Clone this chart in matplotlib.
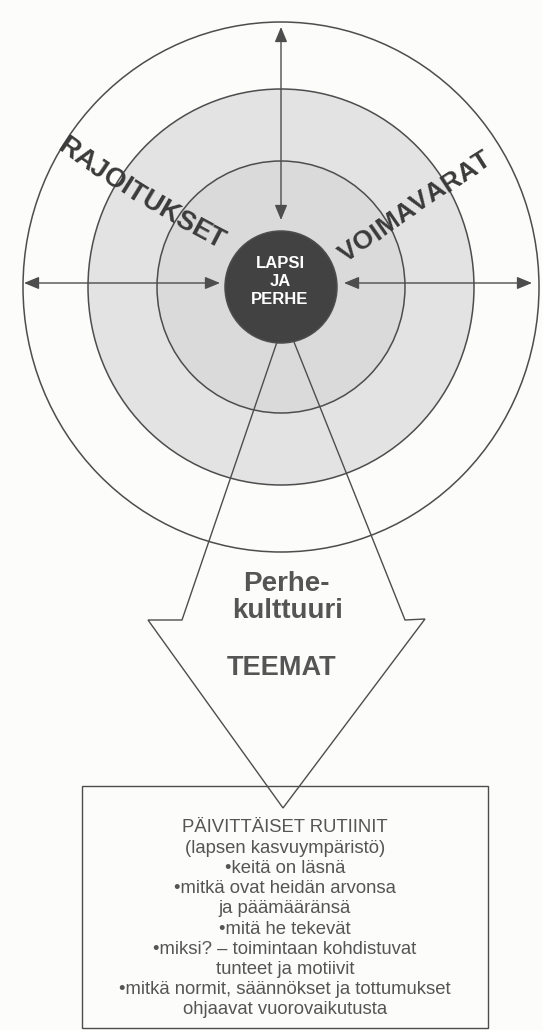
import math
import matplotlib
matplotlib.use("Agg")
import matplotlib.pyplot as plt
from matplotlib.patches import Ellipse, Polygon, Rectangle
from matplotlib.font_manager import FontProperties
from matplotlib.textpath import TextToPath

# ---- content -------------------------------------------------------------
center_label = ["LAPSI", "JA", "PERHE"]
left_label = "RAJOITUKSET"
right_label = "VOIMAVARAT"
arrow_labels = ["Perhe-", "kulttuuri", "TEEMAT"]
box_lines = [
    "PÄIVITTÄISET RUTIINIT",
    "(lapsen kasvuympäristö)",
    "•keitä on läsnä",
    "•mitkä ovat heidän arvonsa",
    "ja päämääränsä",
    "•mitä he tekevät",
    "•miksi? – toimintaan kohdistuvat",
    "tunteet ja motiivit",
    "•mitkä normit, säännökset ja tottumukset",
    "ohjaavat vuorovaikutusta",
]
ring_rx = [258, 193, 124, 56]          # outer -> core
ring_ry = [265, 198, 126, 56]
ring_fills = ["#fcfcfb", "#e3e3e3", "#dadada", "#424242"]

# ---- layout --------------------------------------------------------------
W, H = 542, 1030
cx, cy = 281, 287
line_col = "#4d4d4d"
text_col = "#555555"
FONT = "Liberation Sans"

fig = plt.figure(figsize=(W / 100, H / 100), dpi=100)
fig.patch.set_facecolor("#fcfcfb")
ax = fig.add_axes([0, 0, 1, 1])
ax.set_xlim(0, W)
ax.set_ylim(H, 0)
ax.axis("off")

# concentric rings
for rx, ry, fc in zip(ring_rx, ring_ry, ring_fills):
    ax.add_patch(Ellipse((cx, cy), 2 * rx, 2 * ry, facecolor=fc,
                         edgecolor=line_col, lw=1.1, zorder=1))

# double-headed arrows
astyle = dict(arrowstyle="<|-|>,head_length=0.65,head_width=0.27",
              mutation_scale=14, lw=1.0, color=line_col,
              shrinkA=0, shrinkB=0)
core = ring_rx[-1]
ay = cy - 4
ax.annotate("", xy=(cx, 27), xytext=(cx, cy - core - 11),
            arrowprops=astyle, zorder=3)
ax.annotate("", xy=(24, ay), xytext=(cx - core - 5, ay),
            arrowprops=astyle, zorder=3)
ax.annotate("", xy=(532, ay), xytext=(cx + core + 7, ay),
            arrowprops=astyle, zorder=3)

# core label
for i, t in enumerate(center_label):
    ax.text(cx - 1, cy - 23 + i * 18, t, color="white", fontsize=12,
            fontweight="bold", family=FONT, ha="center", va="center",
            zorder=4)


def text_on_curve(label, start, a0, a1, size, color):
    """Place characters along a gently curving path (screen px, y down)."""
    prop = FontProperties(family=FONT, weight="bold", size=size)
    t2p = TextToPath()
    widths = [t2p.get_text_width_height_descent(c, prop, ismath=False)[0]
              * 100 / 72 for c in label]
    L = sum(widths)
    r0, r1 = math.radians(a0), math.radians(a1)
    k = (r1 - r0) / L
    s = 0.0
    for c, w in zip(label, widths):
        sm = s + w / 2
        a = r0 + k * sm
        if abs(k) < 1e-9:
            dx, dy = sm * math.cos(r0), sm * math.sin(r0)
        else:
            dx = (math.sin(a) - math.sin(r0)) / k
            dy = -(math.cos(a) - math.cos(r0)) / k
        ax.text(start[0] + dx, start[1] + dy, c, rotation=-math.degrees(a),
                rotation_mode="anchor", fontsize=size, fontweight="bold",
                family=FONT, color=color, ha="center", va="center",
                zorder=4)
        s += w


# radial labels
text_on_curve(left_label, (60, 143), 36, 27, 19.5, "#3a3a3a")
text_on_curve(right_label, (342, 257), -36, -32, 19, "#3a3a3a")

# big arrow outline (no fill)
arrow_pts = [(277, 342), (182, 620), (148, 620), (283, 808),
             (425, 619), (405, 620), (294, 342)]
ax.add_patch(Polygon(arrow_pts, closed=False, fill=False,
                     edgecolor=line_col, lw=1.0, zorder=2))

ax.text(286, 584, arrow_labels[0], fontsize=20, fontweight="bold",
        family=FONT, color=text_col, ha="center", va="center", zorder=4)
ax.text(288, 611, arrow_labels[1], fontsize=20, fontweight="bold",
        family=FONT, color=text_col, ha="center", va="center", zorder=4)
ax.text(282, 668, arrow_labels[2], fontsize=19.5, fontweight="bold",
        family=FONT, color=text_col, ha="center", va="center", zorder=4)

# box
ax.add_patch(Rectangle((82, 786), 488 - 82, 1028 - 786, fill=False,
                       edgecolor=line_col, lw=1.0, zorder=2))
for i, t in enumerate(box_lines):
    ax.text(285, 828 + i * 20.2, t, fontsize=13.3, family=FONT,
            color=text_col, ha="center", va="center", zorder=4)

fig.savefig("out.png", dpi=100, facecolor=fig.get_facecolor())
